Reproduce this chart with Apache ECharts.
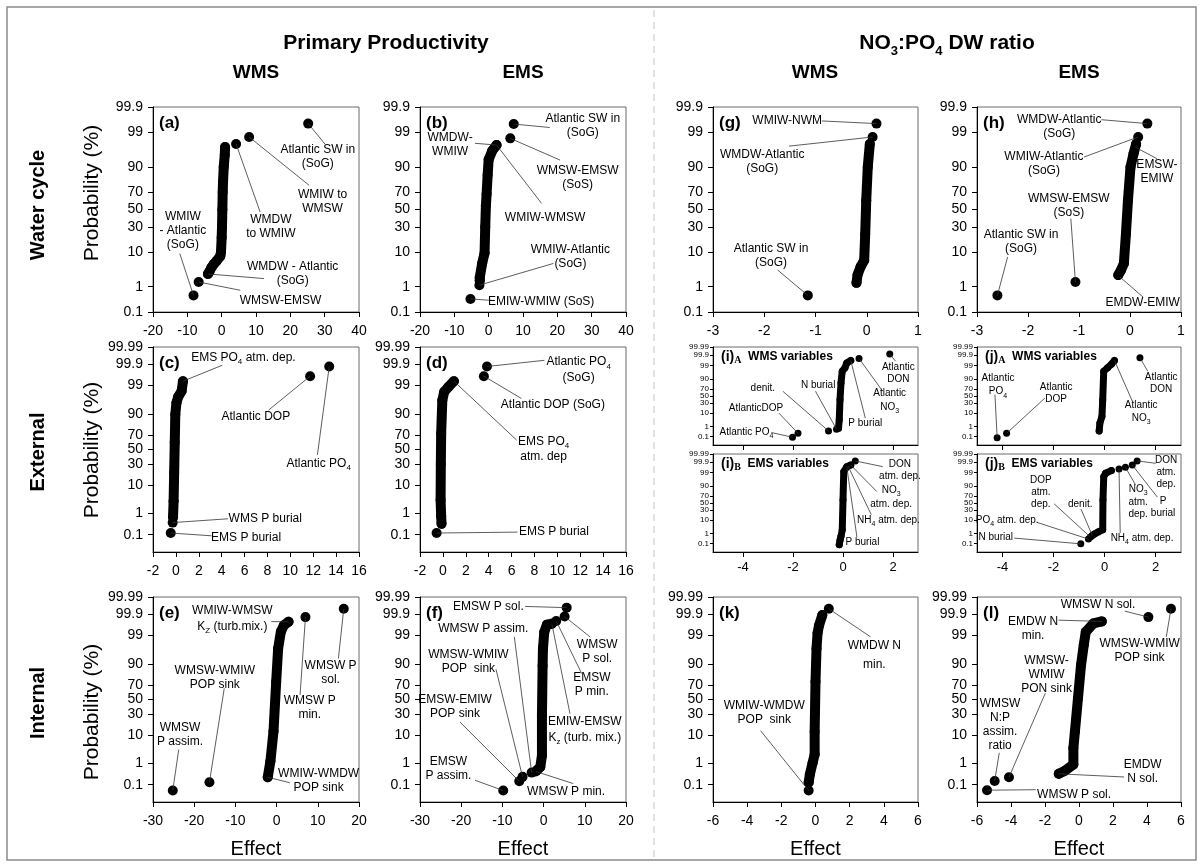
<!DOCTYPE html>
<html><head><meta charset="utf-8">
<script src="https://cdn.jsdelivr.net/npm/echarts@6/dist/echarts.min.js"></script>
<style>html,body{margin:0;padding:0;background:#fff}#c{width:1203px;height:865px}</style>
</head><body><div id="c"></div>
<script>
// ---------- tick labels ----------
const probTicks3 = [0.1, 1, 10, 30, 50, 70, 90, 99, 99.9];
const probTicks4 = [0.01, 0.1, 1, 10, 30, 50, 70, 90, 99, 99.9, 99.99];
const smallXTicks = [-4, -2, 0, 2];

// ---------- data: [effect, probability %] ----------
const a_curve = [[-4.0,2.6],[-3.6,3.0],[-3.0,4.0],[-2.3,5.0],[-1.5,6.0],[-0.4,8.0],[-0.2,10],[0,20],[0.1,30],[0.2,50],[0.3,70],[0.4,80],[0.6,90],[0.9,95],[1.0,97.0]];
const a_points = [[25.2,99.52],[8.0,98.56],[4.2,97.6],[-6.7,1.44],[-8.2,0.48]];
const b_curve = [[-2.6,1.6],[-2.6,2.0],[-1.9,5.2],[-1.2,9.4],[-1.0,30],[-0.8,55],[-0.6,68],[-0.3,85],[0.0,93.4],[1.0,96.1],[2.3,97.4]];
const b_points = [[7.3,99.5],[6.3,98.4],[-2.7,1.13],[-5.3,0.35]];
const g_curve = [[-0.2,1.35],[-0.18,2.4],[-0.12,4.2],[-0.05,6.3],[-0.03,23],[-0.01,61],[0.02,90],[0.06,97.6]];
const g_points = [[0.19,99.52],[0.115,98.56],[-1.15,0.48]];
const h_curve = [[-0.23,2.4],[-0.18,3.3],[-0.12,5.2],[-0.08,23],[-0.04,61],[0.01,90],[0.07,95.4],[0.12,97.6]];
const h_points = [[0.34,99.52],[0.16,98.56],[-1.07,1.44],[-2.6,0.48]];
const c_curve = [[-0.25,0.7],[-0.2,3],[-0.15,20],[-0.1,60],[-0.05,90],[0.05,95.5],[0.2,97.2],[0.5,98.3],[0.62,99.34]];
const c_points = [[-0.28,0.4],[-0.45,0.122],[11.73,99.61],[13.4,99.87]];
const d_curve = [[-0.12,0.35],[-0.15,0.76],[-0.2,3.4],[-0.18,30],[-0.15,72],[-0.05,96.3],[0.12,98.2],[0.46,98.8],[0.96,99.34]];
const d_points = [[3.85,99.87],[3.58,99.61],[-0.55,0.122]];
const iA_curve = [[-0.18,0.72],[-0.15,3.5],[-0.12,39],[-0.08,84],[-0.03,97],[0.08,98.4],[0.15,99.4],[0.31,99.65]];
const iA_points = [[1.87,99.93],[0.64,99.78],[-0.26,0.58],[-0.58,0.4],[-1.8,0.23],[-2.02,0.087]];
const iB_curve = [[-0.15,0.079],[-0.12,0.23],[-0.08,0.57],[-0.03,2.1],[0,59],[0.03,99.1],[0.15,99.7],[0.31,99.8]];
const iB_points = [[0.49,99.93]];
const jA_curve = [[-0.21,0.4],[-0.18,2],[-0.1,6],[-0.07,39],[-0.03,97],[0.12,98.4],[0.27,99.2],[0.39,99.65]];
const jA_points = [[1.39,99.81],[-3.84,0.23],[-4.21,0.079]];
const jB_curve = [[-0.48,0.69],[-0.4,0.92],[-0.25,1.4],[-0.07,2.1],[-0.06,59],[-0.03,97.7],[0.04,98.8],[0.27,99.3]];
const jB_points = [[1.28,99.93],[1.09,99.8],[0.82,99.66],[0.57,99.5],[-0.55,0.48],[-0.63,0.31],[-0.93,0.097]];
const e_curve = [[-2.15,0.24],[-1.5,1.26],[-0.75,12.4],[-0.1,74],[0.37,96.8],[1.03,99.3],[1.78,99.65],[2.9,99.76]];
const e_points = [[16.3,99.95],[7.0,99.86],[-16.3,0.135],[-25.2,0.048]];
const f_curve = [[-1.6,0.51],[-0.8,0.72],[-0.4,2.1],[-0.4,28],[-0.24,89],[-0.16,96.7],[0.16,99.28],[0.8,99.67],[2.0,99.7]];
const f_points = [[5.6,99.957],[5.1,99.87],[3.06,99.78],[-1.9,0.45],[-2.9,0.4],[-5.1,0.25],[-5.9,0.15],[-9.8,0.048]];
const k_curve = [[-0.4,0.13],[-0.33,0.33],[-0.17,1.07],[-0.05,2.3],[-0.05,12.3],[0,74],[0.06,96.8],[0.12,99.2],[0.21,99.65],[0.4,99.89]];
const k_points = [[0.78,99.95],[-0.4,0.048]];
const l_curve = [[-1.19,0.35],[-0.85,0.47],[-0.33,0.92],[-0.33,3.9],[-0.24,12.3],[-0.06,52],[0.12,89.5],[0.28,97.6],[0.4,99.3],[0.85,99.71],[1.34,99.77]];
const l_points = [[5.41,99.95],[4.08,99.86],[-4.12,0.24],[-4.96,0.155],[-5.41,0.05]];

// ---------- annotation layout: [text, target [effect,%], label centre (fraction of plot), leader end (fraction)] ----------
const notes_a = [
 ['Atlantic SW in\n(SoG)', [25.2,99.52], [0.80,0.244], [0.836,0.182]],
 ['WMIW to\nWMSW', [8.0,98.56], [0.823,0.463], [0.758,0.382]],
 ['WMDW\nto WMIW', [4.2,97.6], [0.572,0.585], [0.52,0.512]],
 ['WMDW - Atlantic\n(SoG)', [-4.0,2.6], [0.678,0.813], [0.539,0.837]],
 ['WMSW-EMSW', [-6.7,1.44], [0.619,0.943], [0.424,0.894]],
 ['WMIW\n- Atlantic\n(SoG)', [-8.2,0.48], [0.145,0.605], [0.13,0.715]]
];
const notes_b = [
 ['Atlantic SW in\n(SoG)', [7.3,99.5], [0.79,0.093], [0.63,0.10]],
 ['WMSW-EMSW\n(SoS)', [6.3,98.4], [0.765,0.345], [0.68,0.259]],
 ['WMDW-\nWMIW', [2.3,97.4], [0.146,0.185], [0.267,0.177]],
 ['WMIW-WMSW', [2.3,97.4], [0.607,0.54], [0.59,0.47]],
 ['WMIW-Atlantic\n(SoG)', [-2.7,1.13], [0.73,0.73], [0.648,0.763]],
 ['EMIW-WMIW (SoS)', [-5.3,0.35], [0.588,0.949], [0.356,0.944]]
];
const notes_g = [
 ['WMIW-NWM', [0.19,99.52], [0.362,0.068], [0.531,0.068]],
 ['WMDW-Atlantic\n(SoG)', [0.115,98.56], [0.24,0.268], [0.371,0.191]],
 ['Atlantic SW in\n(SoG)', [-1.15,0.48], [0.283,0.724], [0.315,0.795]]
];
const notes_h = [
 ['WMDW-Atlantic\n(SoG)', [0.34,99.52], [0.403,0.098], [0.61,0.062]],
 ['WMIW-Atlantic\n(SoG)', [0.16,98.56], [0.328,0.276], [0.525,0.244]],
 ['EMSW-\nEMIW', [0.1,97.0], [0.882,0.314], [0.882,0.252]],
 ['WMSW-EMSW\n(SoS)', [-1.07,1.44], [0.45,0.48], [0.46,0.545]],
 ['Atlantic SW in\n(SoG)', [-2.6,0.48], [0.216,0.659], [0.15,0.732]],
 ['EMDW-EMIW', [-0.2,2.1], [0.812,0.956], [0.814,0.927]]
];
const notes_c = [
 ['EMS PO{s|4} atm. dep.', [0.62,99.34], [0.439,0.052], [0.336,0.089]],
 ['Atlantic DOP', [11.73,99.61], [0.499,0.34], [0.561,0.308]],
 ['Atlantic PO{s|4}', [13.4,99.87], [0.804,0.567], [0.798,0.527]],
 ['WMS P burial', [-0.28,0.4], [0.545,0.838], [0.364,0.838]],
 ['EMS P burial', [-0.45,0.122], [0.452,0.929], [0.284,0.921]]
];
const notes_d = [
 ['Atlantic PO{s|4}\n(SoG)', [3.85,99.87], [0.77,0.107], [0.604,0.065]],
 ['Atlantic DOP (SoG)', [3.58,99.61], [0.645,0.28], [0.492,0.251]],
 ['EMS PO{s|4}\natm. dep', [0.96,99.34], [0.6,0.494], [0.469,0.454]],
 ['EMS P burial', [-0.55,0.122], [0.65,0.903], [0.473,0.903]]
];
const notes_iA = [
 ['Atlantic\nDON', [1.87,99.93], [0.904,0.264], [0.89,0.144]],
 ['Atlantic\nNO{s|3}', [0.64,99.78], [0.862,0.551], [0.828,0.452]],
 ['P burial', [0.31,99.65], [0.743,0.777], [0.743,0.726]],
 ['N burial', [-0.26,0.58], [0.513,0.394], [0.5,0.452]],
 ['denit.', [-0.58,0.4], [0.243,0.425], [0.341,0.452]],
 ['AtlanticDOP', [-1.8,0.23], [0.21,0.623], [0.322,0.675]],
 ['Atlantic PO{s|4}', [-2.02,0.087], [0.163,0.87], [0.285,0.873]]
];
const notes_iB = [
 ['DON\natm. dep.', [0.49,99.93], [0.912,0.163], [0.828,0.129]],
 ['NO{s|3}\natm. dep.', [0.31,99.8], [0.869,0.434], [0.799,0.383]],
 ['NH{s|4} atm. dep.', [0.2,99.75], [0.856,0.678], [0.772,0.619]],
 ['P burial', [0.15,99.7], [0.729,0.898], [0.702,0.847]]
];
const notes_jA = [
 ['Atlantic\nDON', [1.39,99.81], [0.903,0.366], [0.837,0.247]],
 ['Atlantic\nNO{s|3}', [0.39,99.65], [0.805,0.668], [0.762,0.555]],
 ['Atlantic\nPO{s|4}', [-4.21,0.079], [0.103,0.394], [0.088,0.486]],
 ['Atlantic\nDOP', [-3.84,0.23], [0.388,0.469], [0.333,0.521]]
];
const notes_jB = [
 ['DON\natm.\ndep.', [1.28,99.93], [0.927,0.186], [0.876,0.095]],
 ['NO{s|3}\natm.\ndep.', [0.82,99.66], [0.79,0.48], [0.777,0.315]],
 ['P\nburial', [1.09,99.8], [0.912,0.54], [0.884,0.44]],
 ['NH{s|4} atm. dep.', [0.57,99.5], [0.809,0.858], [0.702,0.807]],
 ['DOP\natm.\ndep.', [-0.55,0.48], [0.313,0.39], [0.378,0.508]],
 ['denit.', [-0.48,0.69], [0.506,0.512], [0.51,0.563]],
 ['PO{s|4} atm. dep.', [-0.63,0.31], [0.148,0.678], [0.294,0.698]],
 ['N burial', [-0.93,0.097], [0.092,0.851], [0.182,0.858]]
];
const notes_e = [
 ['WMIW-WMSW\nK{s|Z} (turb.mix.)', [2.9,99.76], [0.385,0.109], [0.575,0.12]],
 ['WMSW P\nsol.', [16.3,99.95], [0.862,0.37], [0.9,0.3]],
 ['WMSW P\nmin.', [7.0,99.86], [0.761,0.539], [0.714,0.477]],
 ['WMSW-WMIW\nPOP sink', [-16.3,0.135], [0.3,0.393], [0.346,0.445]],
 ['WMSW\nP assim.', [-25.2,0.048], [0.131,0.672], [0.125,0.744]],
 ['WMIW-WMDW\nPOP sink', [-2.15,0.24], [0.804,0.895], [0.664,0.906]]
];
const notes_f = [
 ['EMSW P sol.', [5.6,99.957], [0.332,0.049], [0.51,0.046]],
 ['WMSW P assim.', [-2.9,0.4], [0.307,0.154], [0.458,0.195]],
 ['WMSW-WMIW\nPOP  sink', [-5.1,0.25], [0.235,0.317], [0.369,0.353]],
 ['EMSW-EMIW\nPOP sink', [-5.9,0.15], [0.17,0.533], [0.194,0.61]],
 ['EMSW\nP assim.', [-9.8,0.048], [0.138,0.837], [0.267,0.894]],
 ['WMSW P min.', [-1.9,0.45], [0.709,0.951], [0.744,0.91]],
 ['WMSW\nP sol.', [5.1,99.87], [0.86,0.268], [0.826,0.195]],
 ['EMSW\nP min.', [3.06,99.78], [0.834,0.43], [0.785,0.374]],
 ['EMIW-EMSW\nK{s|z} (turb. mix.)', [2.0,99.7], [0.8,0.65], [0.728,0.569]]
];
const notes_k = [
 ['WMDW N\nmin.', [0.78,99.95], [0.787,0.285], [0.768,0.194], 19],
 ['WMIW-WMDW\nPOP  sink', [-0.4,0.048], [0.25,0.566], [0.232,0.652]]
];
const notes_l = [
 ['WMSW N sol.', [4.08,99.86], [0.593,0.037], [0.725,0.069]],
 ['WMSW-WMIW\nPOP sink', [5.41,99.95], [0.797,0.262], [0.928,0.194]],
 ['EMDW N\nmin.', [1.34,99.77], [0.275,0.157], [0.40,0.113]],
 ['WMSW-\nWMIW\nPON sink', [-4.12,0.24], [0.341,0.38], [0.335,0.469]],
 ['WMSW\nN:P\nassim.\nratio', [-4.96,0.155], [0.113,0.621], [0.109,0.76]],
 ['EMDW\nN sol.', [-1.19,0.35], [0.812,0.85], [0.721,0.878]],
 ['WMSW P sol.', [-5.41,0.05], [0.476,0.963], [0.288,0.94]]
];

// ---------- layout ----------
const FONT = 'Arial, "Liberation Sans", Helvetica, sans-serif';
const COLS = {c1:[153,206], c2:[420,206], c3:[713,205], c4:[977,204]};
const ROWS = {r1:[107,205], r2:[347,205], r3:[597,205], rA:[347,98], rB:[454,98]};

const panels = [
 {col:'c1',row:'r1',xr:[-20,40,10],yt:probTicks3,curve:a_curve,pts:a_points,notes:notes_a,tag:'(a)',xlab:true},
 {col:'c2',row:'r1',xr:[-20,40,10],yt:probTicks3,curve:b_curve,pts:b_points,notes:notes_b,tag:'(b)',xlab:true},
 {col:'c3',row:'r1',xr:[-3,1,1],yt:probTicks3,curve:g_curve,pts:g_points,notes:notes_g,tag:'(g)',xlab:true},
 {col:'c4',row:'r1',xr:[-3,1,1],yt:probTicks3,curve:h_curve,pts:h_points,notes:notes_h,tag:'(h)',xlab:true},
 {col:'c1',row:'r2',xr:[-2,16,2],yt:probTicks4,curve:c_curve,pts:c_points,notes:notes_c,tag:'(c)',xlab:true},
 {col:'c2',row:'r2',xr:[-2,16,2],yt:probTicks4,curve:d_curve,pts:d_points,notes:notes_d,tag:'(d)',xlab:true},
 {col:'c3',row:'rA',xr:[-5.2,3],xc:smallXTicks,yt:probTicks4,curve:iA_curve,pts:iA_points,notes:notes_iA,small:true,stag:['(i)','A','WMS variables'],xlab:false},
 {col:'c3',row:'rB',xr:[-5.2,3],xc:smallXTicks,yt:probTicks4,curve:iB_curve,pts:iB_points,notes:notes_iB,small:true,stag:['(i)','B','EMS variables'],xlab:true},
 {col:'c4',row:'rA',xr:[-5,3],xc:smallXTicks,yt:probTicks4,curve:jA_curve,pts:jA_points,notes:notes_jA,small:true,stag:['(j)','A','WMS variables'],xlab:false},
 {col:'c4',row:'rB',xr:[-5,3],xc:smallXTicks,yt:probTicks4,curve:jB_curve,pts:jB_points,notes:notes_jB,small:true,stag:['(j)','B','EMS variables'],xlab:true},
 {col:'c1',row:'r3',xr:[-30,20,10],yt:probTicks4,curve:e_curve,pts:e_points,notes:notes_e,tag:'(e)',xlab:true,effect:true},
 {col:'c2',row:'r3',xr:[-30,20,10],yt:probTicks4,curve:f_curve,pts:f_points,notes:notes_f,tag:'(f)',xlab:true,effect:true},
 {col:'c3',row:'r3',xr:[-6,6,2],yt:probTicks4,curve:k_curve,pts:k_points,notes:notes_k,tag:'(k)',xlab:true,effect:true},
 {col:'c4',row:'r3',xr:[-6,6,2],yt:probTicks4,curve:l_curve,pts:l_points,notes:notes_l,tag:'(l)',xlab:true,effect:true}
];

// inverse standard normal CDF (probability-scale transform)
function probit(pct){
  const p = pct/100;
  const a=[-3.969683028665376e+01,2.209460984245205e+02,-2.759285104469687e+02,1.383577518672690e+02,-3.066479806614716e+01,2.506628277459239e+00];
  const b=[-5.447609879822406e+01,1.615858368580409e+02,-1.556989798598866e+02,6.680131188771972e+01,-1.328068155288572e+01];
  const c=[-7.784894002430293e-03,-3.223964580411365e-01,-2.400758277161838e+00,-2.549671010531165e+00,4.374664141464968e+00,2.938163982698783e+00];
  const d=[7.784695709041462e-03,3.224671290700398e-01,2.445134137142996e+00,3.754408661907416e+00];
  const pl=0.02425, ph=1-pl; let q,r;
  if(p<pl){q=Math.sqrt(-2*Math.log(p));return (((((c[0]*q+c[1])*q+c[2])*q+c[3])*q+c[4])*q+c[5])/((((d[0]*q+d[1])*q+d[2])*q+d[3])*q+1);}
  if(p<=ph){q=p-0.5;r=q*q;return (((((a[0]*r+a[1])*r+a[2])*r+a[3])*r+a[4])*r+a[5])*q/(((((b[0]*r+b[1])*r+b[2])*r+b[3])*r+b[4])*r+1);}
  q=Math.sqrt(-2*Math.log(1-p));return -(((((c[0]*q+c[1])*q+c[2])*q+c[3])*q+c[4])*q+c[5])/((((d[0]*q+d[1])*q+d[2])*q+d[3])*q+1);
}

const chart = echarts.init(document.getElementById('c'), null, {renderer:'canvas'});
const grids=[], xAxes=[], yAxes=[], series=[];
panels.forEach((p,i)=>{
  const [L,W] = COLS[p.col], [T,H] = ROWS[p.row];
  p.rect = {x:L,y:T,w:W,h:H};
  grids.push({left:L, top:T, width:W, height:H, show:true, borderColor:'#6a6a6a', borderWidth:1, backgroundColor:'transparent', containLabel:false, outerBoundsMode:'none'});
  const xa = {gridIndex:i, type:'value', min:p.xr[0], max:p.xr[1],
    axisLine:{show:true, onZero:false, lineStyle:{color:'#000', width:1}},
    axisTick:{show:true, length:5, lineStyle:{color:'#000'}},
    axisLabel:{show:p.xlab, color:'#000', fontFamily:FONT, fontSize:p.small?13:14, margin:p.small?9:12, showMinLabel:true, showMaxLabel:true},
    splitLine:{show:false}};
  if(p.xc){ xa.axisTick.customValues = p.xc; xa.axisLabel.customValues = p.xc; }
  else { xa.interval = p.xr[2]; }
  if(p.effect){ xa.name='Effect'; xa.nameLocation='middle'; xa.nameGap=37; xa.nameTextStyle={fontFamily:FONT, fontSize:20, color:'#000'}; }
  xAxes.push(xa);
  const zt = p.yt.map(probit), zm = probit(p.yt[p.yt.length-1]);
  yAxes.push({gridIndex:i, type:'value', min:-zm, max:zm,
    axisLine:{show:true, onZero:false, lineStyle:{color:'#000', width:1}},
    axisTick:{show:true, length:p.small?3:5, customValues:zt, lineStyle:{color:'#000'}},
    axisLabel:{show:true, customValues:zt, color:'#000', fontFamily:FONT, fontSize:p.small?8:14, margin:p.small?4:10,
      formatter:(v)=>{ let s=''; p.yt.forEach(t=>{ if(Math.abs(probit(t)-v)<1e-6) s=String(t); }); return s; }},
    splitLine:{show:false}});
  const ds = p.small?7:10;
  series.push({type:'line', xAxisIndex:i, yAxisIndex:i, data:p.curve.map(d=>[d[0], probit(d[1])]),
    symbol:'circle', symbolSize:ds, showSymbol:true, itemStyle:{color:'#000', opacity:1},
    lineStyle:{color:'#000', width:ds, cap:'round', join:'round', opacity:1}, silent:true, z:3});
  series.push({type:'scatter', xAxisIndex:i, yAxisIndex:i, data:p.pts.map(d=>[d[0], probit(d[1])]),
    symbol:'circle', symbolSize:ds, itemStyle:{color:'#000', opacity:1}, silent:true, z:4});
});

chart.setOption({animation:false, backgroundColor:'#fff', grid:grids, xAxis:xAxes, yAxis:yAxes, series:series});

// ---------- overlay text & leaders ----------
const G = [];
G.push({type:'rect', shape:{x:7, y:7, width:1189, height:853}, style:{fill:null, stroke:'#8a8a8a', lineWidth:1.5}, silent:true, z:1});
G.push({type:'line', shape:{x1:654, y1:10, x2:654, y2:858}, style:{stroke:'#c4c4c4', lineWidth:1, lineDash:[7,5]}, silent:true, z:1});
function txt(x,y,text,size,weight,extra){
  return Object.assign({type:'text', x:x, y:y, silent:true, z:100,
    style:Object.assign({text:text, fill:'#000', fontFamily:FONT, fontSize:size, fontWeight:weight||'normal', align:'center', verticalAlign:'middle'}, extra||{})});
}
G.push(txt(386,43,'Primary Productivity',21,'bold'));
G.push(txt(947,43,'NO{s|3}:PO{s|4} DW ratio',21,'bold',{lineHeight:24, rich:{s:{fontSize:13, fontWeight:'bold', fontFamily:FONT, verticalAlign:'bottom', lineHeight:30}}}));
[['WMS',256],['EMS',523],['WMS',815],['EMS',1079]].forEach(c=>G.push(txt(c[1],73,c[0],19,'bold')));
[['Water cycle',205],['External',452],['Internal',703]].forEach(r=>{ const t=txt(38,r[1],r[0],20,'bold'); t.rotation=Math.PI/2; G.push(t); });
[193,450,712].forEach(y=>{ const t=txt(92,y,'Probability (%)',21,'normal'); t.rotation=Math.PI/2; G.push(t); });

panels.forEach((p,i)=>{
  const R = p.rect;
  if(p.tag) G.push(txt(R.x+6, R.y+16, p.tag, 17, 'bold', {align:'left'}));
  if(p.stag) G.push(txt(R.x+8, R.y+10, '{t|'+p.stag[0]+'}{c|'+p.stag[1]+'}  {v|'+p.stag[2]+'}', 12, 'bold',
     {align:'left', rich:{t:{fontSize:14,fontWeight:'bold',fontFamily:FONT}, c:{fontSize:10,fontWeight:'bold',fontFamily:'"Liberation Serif", "Times New Roman", serif', verticalAlign:'bottom', lineHeight:16}, v:{fontSize:12,fontWeight:'bold',fontFamily:FONT}}}));
  const fs = p.small?10:12, lh = p.small?12:14;
  p.notes.forEach(n=>{
    const pt = chart.convertToPixel({gridIndex:i}, [n[1][0], probit(n[1][1])]);
    const lx = R.x + n[2][0]*R.w, ly = R.y + n[2][1]*R.h;
    if(n[3]){
      const ex = R.x + n[3][0]*R.w, ey = R.y + n[3][1]*R.h;
      G.push({type:'line', shape:{x1:pt[0], y1:pt[1], x2:ex, y2:ey}, style:{stroke:'#333', lineWidth:0.8}, silent:true, z:50});
    }
    const L = n[4] || lh;
    G.push(txt(lx, ly, n[0], fs, 'normal', {lineHeight:L, rich:{s:{fontSize:Math.round(fs*0.7), fontFamily:FONT, verticalAlign:'bottom', lineHeight:L+3}}}));
  });
});
chart.setOption({graphic:{elements:G}});
</script>
</body></html>
